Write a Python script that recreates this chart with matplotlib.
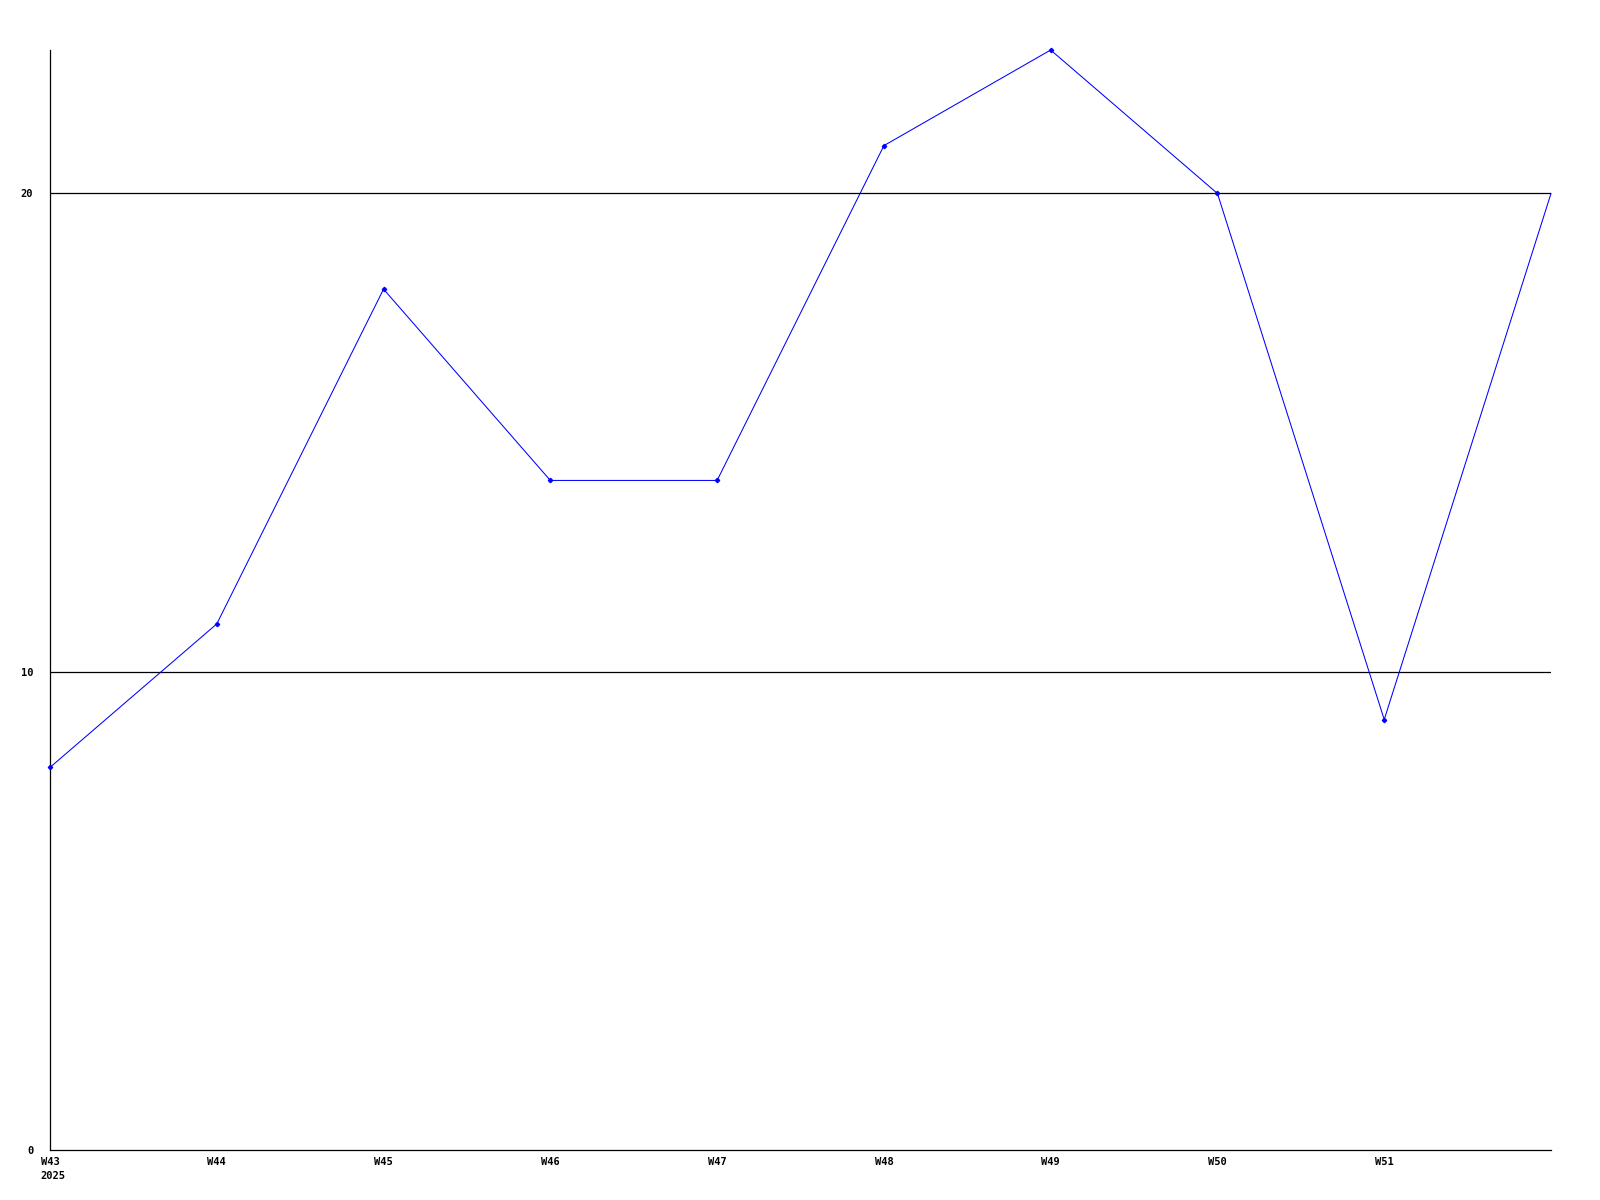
import matplotlib
matplotlib.use("Agg")
import matplotlib.pyplot as plt
from matplotlib.transforms import offset_copy

weeks = ["W43", "W44", "W45", "W46", "W47", "W48", "W49", "W50", "W51", ""]
values = [8, 11, 18, 14, 14, 21, 23, 20, 9, 20]
year_label = "2025"
y_ticks = [0, 10, 20]

fig = plt.figure(figsize=(16, 12), dpi=100)
ax = fig.add_axes([50/1600, 1 - 1150/1200, (1551-50)/1600, 1100/1200])

x = list(range(len(values)))
for yv in y_ticks[1:]:
    ax.axhline(yv, color="black", lw=0.9, zorder=1)
ax.plot(x, values, color="#0000ff", lw=0.75, marker="D", ms=2.2, zorder=3,
        clip_on=False, markevery=list(range(len(values) - 1)))

ax.set_xlim(0, len(values) - 1)
ax.set_ylim(0, 23)
for s in ["top", "right"]:
    ax.spines[s].set_visible(False)
for s in ["left", "bottom"]:
    ax.spines[s].set_color("black")
    ax.spines[s].set_linewidth(0.9)

font = dict(family="DejaVu Sans Mono", weight="bold", size=7.5)
ax.set_xticks(x[:-1])
ax.set_xticklabels(weeks[:-1], **font)
ax.set_yticks(y_ticks)
ax.set_yticklabels([str(v) for v in y_ticks], **font)
ax.tick_params(axis="x", length=0, pad=5)
ax.tick_params(axis="y", length=0, pad=12)

tr = offset_copy(ax.get_xaxis_transform(), fig=fig, x=-10, y=-21, units="dots")
ax.text(0, 0, year_label, transform=tr, ha="left", va="top", **font)

fig.savefig("out.png", dpi=100, facecolor="white")
